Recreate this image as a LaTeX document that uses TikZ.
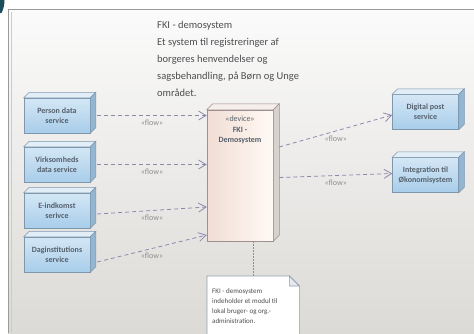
\documentclass[tikz,border=0pt]{standalone}
\usepackage{fontspec}
\setmainfont{Carlito}
\usetikzlibrary{arrows.meta,calc}
\definecolor{bgtop}{HTML}{FBFBFB}
\definecolor{bgbot}{HTML}{DCDAD6}
\definecolor{framec}{HTML}{9A9A9A}
\definecolor{teal}{HTML}{1C4E5E}
\definecolor{boxedge}{HTML}{7F97AD}
\definecolor{boxtop}{HTML}{D4E7F5}
\definecolor{boxbot}{HTML}{A8CDEA}
\definecolor{boxlid}{HTML}{E2EEF7}
\definecolor{boxside}{HTML}{93B6D2}
\definecolor{boxtext}{HTML}{56606C}
\definecolor{devedge}{HTML}{9C9090}
\definecolor{devleft}{HTML}{F1DDD4}
\definecolor{devright}{HTML}{FFFAF5}
\definecolor{devlid}{HTML}{F6EEEA}
\definecolor{devside}{HTML}{D8D2CE}
\definecolor{flowc}{HTML}{8C89AD}
\definecolor{lblc}{HTML}{8E8E8E}
\definecolor{titlec}{HTML}{4E4E4E}
\definecolor{noteedge}{HTML}{8E9FB2}
\definecolor{notefold}{HTML}{E6E8EC}
\newcommand\boxdepth[5]{%
  \filldraw[draw=#5, line width=0.5pt, fill=#3] (#1.north west) -- ++(#2,-#2) -- ($(#1.north east)+(#2,-#2)$) -- (#1.north east) -- cycle;
  \filldraw[draw=#5, line width=0.5pt, fill=#4] (#1.north east) -- ++(#2,-#2) -- ($(#1.south east)+(#2,-#2)$) -- (#1.south east) -- cycle;}
\begin{document}
\begin{tikzpicture}[x=1pt,y=-1pt,
  svcbox/.style={draw=boxedge, line width=0.5pt, top color=boxtop, bottom color=boxbot,
    minimum width=66pt, minimum height=35pt, inner sep=1pt, align=center, text=boxtext,
    font=\bfseries\fontsize{8}{10}\selectfont},
  devbox/.style={draw=devedge, line width=0.5pt, left color=devleft, right color=devright,
    minimum width=66pt, minimum height=131pt, inner sep=0pt},
  devtext/.style={align=center, text=boxtext, inner sep=0pt, font=\fontsize{8}{10.5}\selectfont},
  flowline/.style={draw=flowc, line width=0.8pt, dash pattern=on 4pt off 3pt,
    -{Straight Barb[length=7.5pt,width=9pt,line width=0.8pt]}},
  flowlbl/.style={text=lblc, inner sep=1pt, font=\fontsize{8}{9}\selectfont},
  notebox/.style={minimum width=92pt, minimum height=70pt, inner sep=0pt},
  notetext/.style={align=left, text=titlec, inner sep=0pt, font=\fontsize{7}{10.2}\selectfont},
  titletext/.style={align=left, text=titlec, inner sep=0pt, font=\fontsize{10.5}{17}\selectfont}]
\useasboundingbox (0,0) rectangle (474,333);
\fill[white] (0,0) rectangle (474,333);
\shade[top color=bgtop, bottom color=bgbot] (8,9) rectangle (474,333);
\draw[framec, line width=1.5pt] (8.5,333) -- (8.5,9.5) -- (474,9.5);
\draw[black!20, line width=0.8pt] (11.5,333) -- (11.5,12);
\fill[teal] (0,0) -- (4.5,0) .. controls (4.5,5) and (3.5,9) .. (1.5,13) -- (0,13) -- cycle;

% title
\node[titletext, anchor=north west] (title) at (157,21)
  {FKI - demosystem\\Et system til registreringer af\\borgeres henvendelser og\\sagsbehandling, på Børn og Unge\\området.};

% left services
\node[svcbox] (person) at (57,115.5) {Person data\\service};
\node[svcbox] (virk) at (57,164.5) {Virksomheds\\data service};
\node[svcbox] (eind) at (57,210.5) {E-indkomst\\serivce};
\node[svcbox] (dagin) at (57,254.5) {Daginstitutions\\service};
\foreach \n in {person,virk,eind,dagin} {\boxdepth{\n}{5.5}{boxlid}{boxside}{boxedge}}

% device
\node[devbox] (fki) at (240,175.5) {};
\boxdepth{fki}{6}{devlid}{devside}{devedge}
\node[devtext, anchor=north] (fkitext) at ($(fki.north)+(0,6)$) {«device»\\\textbf{FKI -}\\\textbf{Demosystem}};

% right services
\node[svcbox] (digital) at (425.5,112) {Digital post\\service};
\node[svcbox] (integ) at (425.5,175) {Integration til\\Økonomisystem};
\foreach \n in {digital,integ} {\boxdepth{\n}{5.5}{boxlid}{boxside}{boxedge}}

% note
\node[notebox, anchor=north west] (note) at (207,276) {};
\filldraw[draw=noteedge, line width=0.6pt, fill=white]
  (note.south west) -- (note.north west) -- ($(note.north east)+(-10,0)$) -- ($(note.north east)+(0,10)$) -- (note.south east);
\filldraw[draw=noteedge, line width=0.6pt, fill=notefold]
  ($(note.north east)+(-10,0)$) -- ($(note.north east)+(-10,10)$) -- ($(note.north east)+(0,10)$) -- cycle;
\node[notetext, anchor=north west] (notetxt) at ($(note.north west)+(5,12)$)
  {FKI - demosystem\\indeholder et modul til\\lokal bruger- og org.-\\administration.};
\draw[flowc, line width=0.7pt, dash pattern=on 1.5pt off 1.5pt] (note.north |- fki.south) -- (note.north);

% connectors
\draw[flowline] ([xshift=7pt]person.east) -- (fki.west |- person.east) node[flowlbl, midway, below=3pt] {«flow»};
\draw[flowline] ([xshift=7pt]virk.east) -- (fki.west |- virk.east) node[flowlbl, midway, below=3pt] {«flow»};
\draw[flowline] ([xshift=7pt,yshift=-3.5pt]eind.east) -- (fki.west |- {$(eind.east)+(0,-3.5)$}) node[flowlbl, midway, below=3pt] {«flow»};
\draw[flowline] ([xshift=7pt,yshift=-7.5pt]dagin.east) -- ([yshift=-59.5pt]fki.west) node[flowlbl, midway, below=3pt] {«flow»};
\draw[flowline] ([xshift=6pt,yshift=28.5pt]fki.east) -- ([yshift=-3pt]digital.west) node[flowlbl, midway, below=4pt] {«flow»};
\draw[flowline] ([xshift=6pt,yshift=-2pt]fki.east) -- (integ.west |- {$(fki.east)+(0,-2)$}) node[flowlbl, midway, below=3pt] {«flow»};
\end{tikzpicture}
\end{document}
